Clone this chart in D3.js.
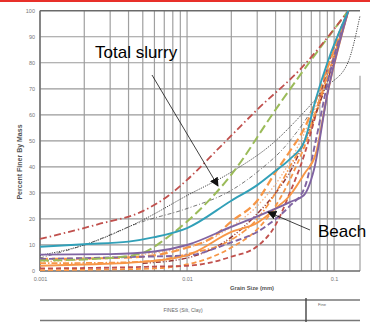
<!DOCTYPE html>
<html>
<head>
<script src="https://d3js.org/d3.v7.min.js"></script>
<style>
  body { margin: 0; background: #fff; }
  text { font-family: "Liberation Sans", Arial, sans-serif; }
</style>
</head>
<body>
<svg id="chart" width="370" height="322"></svg>
<script>
// tick labels
var yTicks = [0, 10, 20, 30, 40, 50, 60, 70, 80, 90, 100];
var xTickLabels = [0.001, 0.01, 0.1];

// grain size (mm) / percent finer, one pair of arrays per test
var tealSizes = [0.001, 0.002, 0.004, 0.006, 0.01, 0.02, 0.03, 0.04, 0.05, 0.063, 0.075, 0.09, 0.125];
var tealPct   = [9.3, 10.3, 11.3, 13, 16.5, 27, 33, 38.5, 43, 50, 66, 80, 100];

var purpleSizes = [0.001, 0.003, 0.006, 0.01, 0.02, 0.03, 0.04, 0.05, 0.062, 0.073, 0.09, 0.125];
var purplePct   = [6.3, 6.5, 7.5, 10, 17, 21, 24, 26.5, 29, 39, 68, 100];

var purpleDashSizes = [0.001, 0.005, 0.01, 0.02, 0.03, 0.04, 0.05, 0.063, 0.075, 0.09, 0.125];
var purpleDashPct   = [4.6, 5.5, 6, 11, 15, 20, 25, 32, 50, 72, 100];

var orangeSizes = [0.001, 0.002, 0.005, 0.01, 0.02, 0.03, 0.04, 0.05, 0.063, 0.075, 0.09, 0.125];
var orangePct   = [2, 2.5, 3.5, 6, 15, 18.5, 24, 29, 37.5, 45, 68, 100];

var orangeDashSizes = [0.001, 0.003, 0.005, 0.01, 0.015, 0.02, 0.03, 0.04, 0.05, 0.063, 0.09, 0.125];
var orangeDashPct   = [4.6, 5, 5.5, 9, 13, 19, 27, 38, 46, 55, 78, 100];

var orangeDotSizes = [0.001, 0.003, 0.006, 0.01, 0.02, 0.03, 0.04, 0.05, 0.065, 0.09, 0.125];
var orangeDotPct   = [3, 3.2, 4, 6.5, 12, 20, 30, 40, 52, 75, 100];

var orangeLowSizes = [0.001, 0.003, 0.006, 0.01, 0.02, 0.03, 0.04, 0.05, 0.063, 0.09, 0.125];
var orangeLowPct   = [0.3, 0.6, 1, 2.5, 9, 16, 25, 35, 48, 74, 100];

var redDashSizes = [0.001, 0.003, 0.006, 0.01, 0.02, 0.03, 0.04, 0.05, 0.063, 0.075, 0.09, 0.125];
var redDashPct   = [1, 1.3, 1.7, 2, 5.5, 9.5, 17.7, 30, 45, 60, 78, 100];

var redDashDotSizes = [0.001, 0.0025, 0.005, 0.0075, 0.01, 0.017, 0.03, 0.06, 0.125];
var redDashDotPct   = [12.3, 18, 23, 29, 35, 48, 62, 78, 100];

var greenSizes = [0.001, 0.003, 0.005, 0.007, 0.01, 0.02, 0.04, 0.06, 0.125];
var greenPct   = [4, 5, 7, 12, 19, 37, 62, 76, 100];

var slurrySizes = [0.001, 0.002, 0.005, 0.01, 0.02, 0.04, 0.06, 0.09, 0.124, 0.15];
var slurryPct   = [6, 10, 19.6, 29, 38, 50, 60, 71, 80, 98];

var greyDashDotSizes = [0.001, 0.002, 0.005, 0.01, 0.02, 0.03, 0.05, 0.075, 0.125];
var greyDashDotPct   = [5, 10, 19, 24, 31, 38, 50, 65, 100];

var brownSizes = [0.005, 0.01, 0.02, 0.03, 0.04, 0.05, 0.063, 0.09, 0.125];
var brownPct   = [3, 5, 13, 22, 30, 38, 50, 73, 100];

var tanSizes = [0.001, 0.01, 0.02, 0.03, 0.05, 0.09, 0.125];
var tanPct   = [3.5, 9, 17, 25, 42, 75, 100];

var series = [
  { s: tanSizes, p: tanPct, c: "#f4b183", w: 1.3, d: "1.5,2" },
  { s: orangeLowSizes, p: orangeLowPct, c: "#f79646", w: 1.8, d: "5,3" },
  { s: redDashSizes, p: redDashPct, c: "#c0504d", w: 1.8, d: "5,3" },
  { s: brownSizes, p: brownPct, c: "#953735", w: 1.5, d: "5,2,1,2,1,2" },
  { s: greyDashDotSizes, p: greyDashDotPct, c: "#555", w: 0.8, d: "4,2,1,2" },
  { s: slurrySizes, p: slurryPct, c: "#333", w: 0.9, d: "1.2,1.2" },
  { s: orangeDotSizes, p: orangeDotPct, c: "#f79646", w: 1.7, d: "6,2,1.5,2" },
  { s: orangeDashSizes, p: orangeDashPct, c: "#f79646", w: 2.2, d: "8,4" },
  { s: purpleDashSizes, p: purpleDashPct, c: "#8064a2", w: 1.9, d: "6,3" },
  { s: greenSizes, p: greenPct, c: "#9bbb59", w: 2, d: "9,4" },
  { s: redDashDotSizes, p: redDashDotPct, c: "#c0504d", w: 1.8, d: "7,3,1.5,3" },
  { s: orangeSizes, p: orangePct, c: "#f79646", w: 1.9, d: null },
  { s: purpleSizes, p: purplePct, c: "#8064a2", w: 1.9, d: null },
  { s: tealSizes, p: tealPct, c: "#31a0b8", w: 1.9, d: null }
];

var svg = d3.select("#chart");

var x = d3.scaleLog().domain([0.001, 0.15]).range([40, 360]);
var y = d3.scaleLinear().domain([0, 100]).range([271, 10.7]);

// red strip across the very top
svg.append("rect").attr("x", 0).attr("y", 0).attr("width", 370).attr("height", 2).attr("fill", "#e8302a");

// vertical grid (1..9 per decade)
var vGrid = [];
[0.001, 0.01].forEach(function (dec) {
  for (var k = 1; k <= 9; k++) vGrid.push(k * dec);
});
vGrid.push(0.1);
svg.append("g").selectAll("line").data(vGrid).enter().append("line")
  .attr("x1", d => x(d)).attr("x2", d => x(d))
  .attr("y1", y(100)).attr("y2", y(0))
  .attr("stroke", "#a0a0a0").attr("stroke-width", 1.2);
// partial line at the right edge
svg.append("line").attr("x1", x(0.15)).attr("x2", x(0.15))
  .attr("y1", y(75)).attr("y2", y(0)).attr("stroke", "#a0a0a0").attr("stroke-width", 1.2);

// horizontal grid
svg.append("g").selectAll("line").data(yTicks).enter().append("line")
  .attr("x1", x(0.001)).attr("x2", x(0.15))
  .attr("y1", d => y(d)).attr("y2", d => y(d))
  .attr("stroke", d => (d === 0 || d === 100) ? "#6a6a6a" : "#9a9a9a")
  .attr("stroke-width", d => (d === 0 || d === 100) ? 1.4 : 1.2);
svg.append("line").attr("x1", x(0.001)).attr("x2", x(0.001))
  .attr("y1", y(100)).attr("y2", y(0)).attr("stroke", "#6a6a6a").attr("stroke-width", 1.4);

// axes labels
var yAxis = svg.append("g").attr("transform", "translate(" + x(0.001) + ",0)")
  .call(d3.axisLeft(y).tickValues(yTicks).tickSize(0).tickPadding(5));
yAxis.select(".domain").remove();
yAxis.selectAll("text").attr("font-size", 5.5).attr("fill", "#777").attr("font-family", "Liberation Sans");

var xAxis = svg.append("g").attr("transform", "translate(0," + y(0) + ")")
  .call(d3.axisBottom(x).tickValues(xTickLabels).tickSize(0).tickPadding(6)
    .tickFormat(d3.format("")));
xAxis.select(".domain").remove();
xAxis.selectAll("text").attr("font-size", 5.5).attr("fill", "#777").attr("font-family", "Liberation Sans");

// data lines
var line = d3.line().x(d => x(d[0])).y(d => y(d[1])).curve(d3.curveMonotoneX);
svg.append("g").selectAll("path").data(series).enter().append("path")
  .attr("d", d => line(d.s.map((v, i) => [v, d.p[i]])))
  .attr("fill", "none")
  .attr("stroke", d => d.c)
  .attr("stroke-width", d => d.w)
  .attr("stroke-dasharray", d => d.d)
  .attr("stroke-linejoin", "round");

// axis titles
svg.append("text").attr("transform", "translate(22,162) rotate(-90)")
  .attr("text-anchor", "middle").attr("font-size", 7).attr("font-weight", "bold")
  .attr("fill", "#555").text("Percent Finer By Mass");
svg.append("text").attr("x", 252).attr("y", 290)
  .attr("text-anchor", "middle").attr("font-size", 5.8).attr("font-weight", "bold")
  .attr("fill", "#555").text("Grain Size (mm)");

// table strip below
var tbl = svg.append("g").attr("stroke", "#777").attr("stroke-width", 1.4);
tbl.append("line").attr("x1", 40).attr("x2", 360).attr("y1", 300).attr("y2", 300);
tbl.append("line").attr("x1", 40).attr("x2", 360).attr("y1", 320.5).attr("y2", 320.5);
tbl.append("line").attr("x1", 306).attr("x2", 306).attr("y1", 298).attr("y2", 322).attr("stroke", "#444");
svg.append("text").attr("x", 183).attr("y", 312).attr("text-anchor", "middle")
  .attr("font-size", 5).attr("fill", "#666").text("FINES (Silt, Clay)");
svg.append("text").attr("x", 322).attr("y", 306).attr("text-anchor", "middle")
  .attr("font-size", 4.2).attr("fill", "#666").text("Fine");

// annotations
svg.append("defs").append("marker").attr("id", "head")
  .attr("viewBox", "0 0 10 10").attr("refX", 9).attr("refY", 5)
  .attr("markerWidth", 9).attr("markerHeight", 9).attr("markerUnits", "userSpaceOnUse")
  .attr("orient", "auto")
  .append("path").attr("d", "M0,0L10,5L0,10z").attr("fill", "#111");

svg.append("line").attr("x1", 152).attr("y1", 75).attr("x2", 218).attr("y2", 186)
  .attr("stroke", "#111").attr("stroke-width", 0.8).attr("marker-end", "url(#head)");
svg.append("text").attr("x", 95).attr("y", 58).attr("font-size", 17).attr("fill", "#000")
  .text("Total slurry");

svg.append("line").attr("x1", 310).attr("y1", 230).attr("x2", 268).attr("y2", 212)
  .attr("stroke", "#111").attr("stroke-width", 0.8).attr("marker-end", "url(#head)");
svg.append("text").attr("x", 318).attr("y", 237).attr("font-size", 17).attr("fill", "#000")
  .text("Beach");
</script>
</body>
</html>
